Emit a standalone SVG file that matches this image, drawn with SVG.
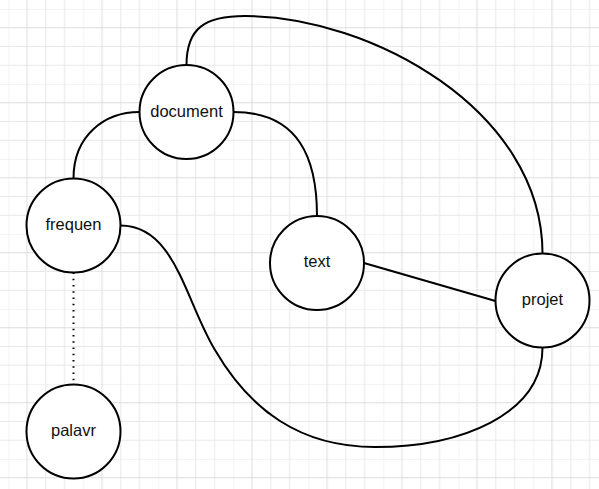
<svg xmlns="http://www.w3.org/2000/svg" width="599" height="489" viewBox="0 0 599 489">
  <defs>
    <pattern id="grid" patternUnits="userSpaceOnUse" x="8.3" y="8.95" width="75" height="75">
      <path d="M0,0 V75 M37.5,0 V75 M56.25,0 V75 M0,0 H75 M0,37.5 H75 M0,56.25 H75" stroke="#e8e8e8" stroke-width="1" fill="none"/>
      <path d="M18.75,0 V75 M0,18.75 H75" stroke="#dcdcdc" stroke-width="1" fill="none"/>
    </pattern>
  </defs>
  <style>
    .node circle { fill: #ffffff; stroke: #000000; stroke-width: 2; }
    .node text { font-family: "Liberation Sans", Arial, sans-serif; font-size: 16.5px; fill: #111111; text-anchor: middle; }
    .edge { fill: none; stroke: #000000; stroke-width: 2; }
    .dotted { stroke-dasharray: 1.5 4.75; }
  </style>
  <rect x="0" y="0" width="599" height="489" fill="#ffffff"/>
  <rect x="0" y="0" width="599" height="489" fill="url(#grid)"/>
  <g id="connectors">
    <path class="edge" d="M73.5,178.5 C73.5,135 105,112 139.5,112"/>
    <path class="edge" d="M233.5,112 C300,112 317,160 317,216"/>
    <path class="edge" d="M186.5,65 C186.5,28 205,16 245,16 C370,16 542.5,110 542.5,253.5"/>
    <path class="edge" d="M364,263 L495.5,301"/>
    <path class="edge" d="M120.5,225.5 C175,225.5 185,300 215,350 C250,410 300,447 375,447 C460,447 542.5,415 542.5,347.5"/>
    <path class="edge dotted" d="M73.5,272.5 L73.5,384.5"/>
  </g>
  <g id="node-document" class="node">
    <circle cx="186.5" cy="112" r="47"/>
    <text x="186.5" y="116.5">document</text>
  </g>
  <g id="node-frequen" class="node">
    <circle cx="73.5" cy="225.5" r="47"/>
    <text x="73.5" y="229.5">frequen</text>
  </g>
  <g id="node-palavr" class="node">
    <circle cx="73.5" cy="431.5" r="47"/>
    <text x="73.5" y="435.5">palavr</text>
  </g>
  <g id="node-text" class="node">
    <circle cx="317" cy="263" r="47"/>
    <text x="317" y="267">text</text>
  </g>
  <g id="node-projet" class="node">
    <circle cx="542.5" cy="300.5" r="47"/>
    <text x="542.5" y="304.5">projet</text>
  </g>
</svg>
